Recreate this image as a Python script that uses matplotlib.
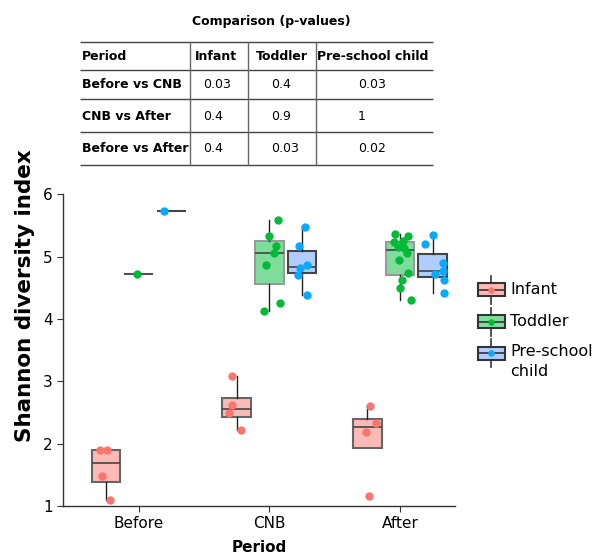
import matplotlib
matplotlib.use('Agg')
import matplotlib.pyplot as plt
import numpy as np

plt.rcParams['font.family'] = ['DejaVu Sans']

# ---- data ----
periods = ['Before', 'CNB', 'After']
groups = ['Infant', 'Toddler', 'Pre-school child']

infant = {
    'Before': [1.90, 1.90, 1.48, 1.10],
    'CNB': [3.08, 2.62, 2.49, 2.22],
    'After': [2.60, 2.33, 2.19, 1.16],
}
toddler = {
    'Before': [4.72],
    'CNB': [5.58, 5.33, 5.17, 5.06, 4.86, 4.25, 4.13],
    'After': [5.37, 5.33, 5.24, 5.25, 5.16, 5.14, 5.06, 4.94, 4.73, 4.62, 4.49, 4.30],
}
preschool = {
    'Before': [5.73],
    'CNB': [5.47, 5.17, 4.86, 4.81, 4.71, 4.39],
    'After': [5.34, 5.21, 4.89, 4.77, 4.72, 4.62, 4.42],
}

# p-value table
comparisons = ['Before vs CNB', 'CNB vs After', 'Before vs After']
infant_p = ['0.03', '0.4', '0.4']
toddler_p = ['0.4', '0.9', '0.03']
preschool_p = ['0.03', '1', '0.02']

# ---- styling / jitter (horizontal scatter of points, as seen) ----
jitter = {
    'Infant': {'Before': [-0.05, 0.004, -0.034, 0.027],
               'CNB': [-0.04, -0.04, -0.06, 0.03],
               'After': [0.02, 0.065, -0.01, 0.01]},
    'Toddler': {'Before': [-0.01],
                'CNB': [0.065, 0.0, 0.05, 0.037, -0.025, 0.08, -0.038],
                'After': [-0.036, 0.06, -0.05, 0.02, -0.015, 0.033, 0.054,
                          -0.005, 0.058, 0.015, -0.003, 0.087]},
    'Pre-school child': {'Before': [-0.058],
                         'CNB': [0.02, -0.023, 0.036, -0.018, -0.033, 0.038],
                         'After': [0.0, -0.06, 0.075, 0.075, 0.016, 0.083, 0.088]},
}
point_col = ['#F8766D', '#00BA38', '#0AA8FF']
box_fill = ['#FBBAB6', '#80DC9B', '#B0CDFF']
box_edge = ['#666666', '#999999', '#444444']
offsets = [-0.25, 0.0, 0.25]
data_sets = [infant, toddler, preschool]

fig = plt.figure(figsize=(6.01, 5.56), dpi=100)
ax = fig.add_axes([63 / 601, 50 / 556, (455 - 63) / 601, (506 - 194.3) / 556])

for gi, (g, d) in enumerate(zip(groups, data_sets)):
    vals = [d[p] for p in periods]
    pos = [i + offsets[gi] for i in range(len(periods))]
    bp = ax.boxplot(vals, positions=pos, widths=0.22, patch_artist=True,
                    showfliers=False, showcaps=False, whis=1.5,
                    boxprops=dict(facecolor=box_fill[gi], edgecolor=box_edge[gi], linewidth=1.5),
                    medianprops=dict(color='#444444', linewidth=1.2),
                    whiskerprops=dict(color='#222222', linewidth=1.0),
                    manage_ticks=False, zorder=2)
    for i, p in enumerate(periods):
        xs = np.array(jitter[g][p]) + pos[i]
        ax.scatter(xs, d[p], s=36, color=point_col[gi], zorder=3, linewidths=0)

ax.set_xlim(-0.58, 2.42)
ax.set_ylim(1, 6)
ax.set_xticks(range(len(periods)))
ax.set_xticklabels(periods, fontsize=11)
ax.set_yticks([1, 2, 3, 4, 5, 6])
ax.tick_params(axis='y', labelsize=11, length=4, color='#333333')
ax.tick_params(axis='x', length=4, color='#333333')
for s in ['top', 'right']:
    ax.spines[s].set_visible(False)
for s in ['left', 'bottom']:
    ax.spines[s].set_color('#333333')
    ax.spines[s].set_linewidth(1.0)
ax.set_xlabel('Period', fontsize=11, fontweight='bold', labelpad=6)

fig.text(25 / 601, 1 - 296 / 556, 'Shannon diversity index', rotation=90,
         fontsize=15.5, fontweight='bold', ha='center', va='center')

# ---- overlay in pixel coordinates for table and legend ----
ov = fig.add_axes([0, 0, 1, 1], zorder=5)
ov.set_xlim(0, 601)
ov.set_ylim(556, 0)
ov.axis('off')
ov.patch.set_alpha(0)

ov.text(271, 22, 'Comparison (p-values)', fontsize=9, fontweight='bold',
        ha='center', va='center')
row_y = [41.7, 69.7, 99, 132.3, 165]
for y in row_y:
    ov.plot([80, 433], [y, y], color='#444444', lw=1.0, solid_capstyle='butt')
for x in [190, 247.7, 315.7]:
    ov.plot([x, x], [row_y[0], row_y[-1]], color='#666666', lw=1.0)

head_y = (row_y[0] + row_y[1]) / 2 + 1
ov.text(82, head_y, 'Period', fontsize=9, fontweight='bold', va='center')
ov.text(195, head_y, 'Infant', fontsize=9, fontweight='bold', va='center')
ov.text(255.5, head_y, 'Toddler', fontsize=9, fontweight='bold', va='center')
ov.text(317, head_y, 'Pre-school child', fontsize=9, fontweight='bold', va='center')
text_rows = [85, 116.7, 148]
for r, comp in enumerate(comparisons):
    y = text_rows[r]
    ov.text(82, y, comp, fontsize=9, fontweight='bold', va='center')
    ov.text(203, y, infant_p[r], fontsize=9, va='center')
    ov.text(270.7, y, toddler_p[r], fontsize=9, va='center')
    ov.text(358, y, preschool_p[r], fontsize=9, va='center')

# legend
leg_y = [289.7, 321.7, 353.3]
leg_labels = ['Infant', 'Toddler', 'Pre-school\nchild']
for i, lab in enumerate(leg_labels):
    y = leg_y[i]
    ov.plot([491, 491], [y - 14, y + 14], color='#333333', lw=1.2, zorder=1)
    ov.add_patch(plt.Rectangle((477.5, y - 6.5), 27.5, 13, facecolor=box_fill[i],
                               edgecolor='#333333', lw=1.5, zorder=2))
    ov.plot([477.5, 505], [y, y], color='#333333', lw=1.2, zorder=3)
    ov.scatter([491], [y], s=22, color=point_col[i], zorder=4, linewidths=0)
    ov.text(510.5, y - 9 if i == 2 else y, lab, fontsize=11.5, va='top' if i == 2 else 'center',
            linespacing=1.35)

fig.savefig('out.png', dpi=100)
